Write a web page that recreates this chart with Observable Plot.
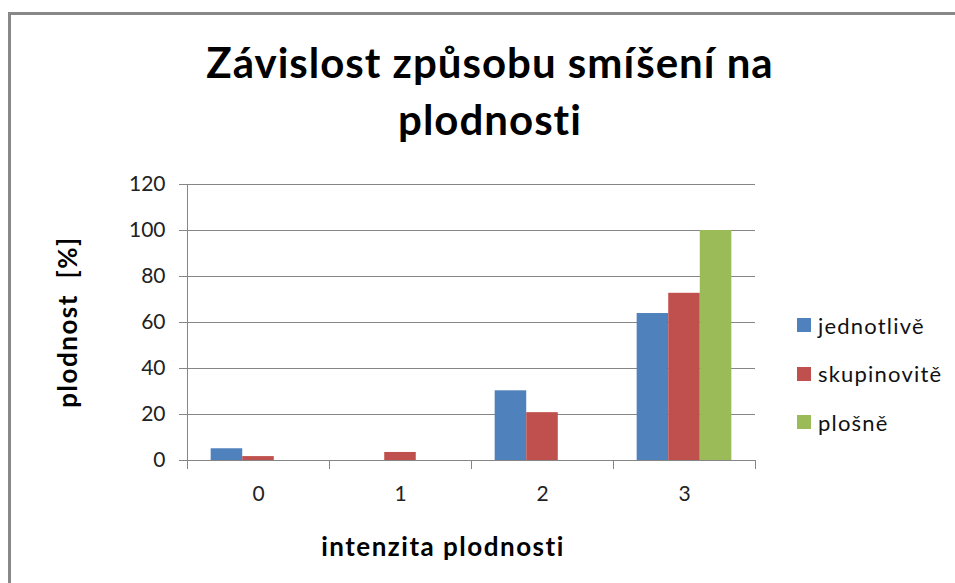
<!DOCTYPE html>
<html>
<head>
<meta charset="utf-8">
<script src="https://cdn.jsdelivr.net/npm/d3@7"></script>
<script src="https://cdn.jsdelivr.net/npm/@observablehq/plot@0.6"></script>
<style>
  html, body { margin: 0; padding: 0; background: #fff; overflow: hidden; }
  #wrap { position: relative; width: 955px; height: 583px; font-family: Lato, "Open Sans", sans-serif; color: #000; }
  #frame { position: absolute; left: 8px; top: 12px; width: 960px; height: 600px; border-left: 3px solid #888; border-top: 3px solid #888; box-sizing: border-box; }
  #title { position: absolute; left: 0; top: 34px; width: 980px; text-align: center; font-weight: bold; font-size: 42px; line-height: 57px; letter-spacing: 1px; }
  #ylabel { position: absolute; left: 67px; top: 322px; transform: translate(-50%, -50%) rotate(-90deg); font-weight: bold; font-size: 26px; letter-spacing: 1.5px; white-space: nowrap; }
  #xlabel { position: absolute; left: 443px; top: 546px; transform: translate(-50%, -50%); font-weight: bold; font-size: 26px; letter-spacing: 1.5px; white-space: nowrap; }
  #legend { position: absolute; left: 797px; top: 301px; font-size: 22px; letter-spacing: 1.2px; color: #111; }
  .li { display: flex; align-items: center; height: 48.5px; }
  .sw { width: 14px; height: 14px; margin-right: 7px; }
  #chart { position: absolute; left: 0; top: 0; }
</style>
</head>
<body>
<div id="wrap">
  <div id="frame"></div>
  <div id="chart"></div>
  <div id="title">Závislost způsobu smíšení na<br>plodnosti</div>
  <div id="ylabel">plodnost&nbsp; [%]</div>
  <div id="xlabel">intenzita plodnosti</div>
  <div id="legend"></div>
</div>
<script>
// ---- data ----
const categories = ["0", "1", "2", "3"];
const seriesNames = ["jednotlivě", "skupinovitě", "plošně"];
const jednotlive = [5.1, 0, 30.3, 63.9];
const skupinovite = [1.7, 3.5, 20.8, 72.7];
const plosne = [0, 0, 0, 100];
const yTicks = [0, 20, 40, 60, 80, 100, 120];
const colors = ["#4F81BD", "#C0504D", "#9BBB59"];

// ---- build table ----
const seriesValues = [jednotlive, skupinovite, plosne];
const rows = [];
seriesValues.forEach((vals, s) => {
  vals.forEach((v, i) => {
    rows.push({cat: i, s, series: seriesNames[s], value: v});
  });
});
// Excel-like gap width 150%: each category band holds 3 bars + 1.5 bar gap
const nS = seriesNames.length;
const slot = nS + 1.5;
const x1 = d => d.cat + (0.75 + d.s) / slot;
const x2 = d => d.cat + (1.75 + d.s) / slot;

const grey = "#868686";
const chart = Plot.plot({
  width: 955,
  height: 583,
  marginLeft: 187,
  marginRight: 200,
  marginTop: 184,
  marginBottom: 123,
  style: {fontFamily: "Lato, 'Open Sans', sans-serif", fontSize: "21px", color: "#222", background: "transparent"},
  x: {type: "linear", domain: [0, categories.length], axis: null},
  y: {domain: [0, 120], axis: null},
  color: {domain: seriesNames, range: colors},
  marks: [
    Plot.gridY(yTicks, {stroke: grey, strokeOpacity: 1, strokeWidth: 1}),
    Plot.rectY(rows.filter(d => d.value > 0), {x1, x2, y1: 0, y2: "value", fill: "series"}),
    Plot.ruleX([0], {stroke: grey, strokeWidth: 1}),
    Plot.ruleY([0], {stroke: grey, strokeWidth: 1}),
    Plot.axisY(yTicks, {tickSize: 8, tickPadding: 14, stroke: grey, fill: "#222", label: null}),
    Plot.axisX(d3.range(categories.length + 1), {tickSize: 9, tickFormat: () => "", stroke: grey, label: null}),
    Plot.axisX(categories.map((c, i) => i + 0.5), {tickSize: 0, tickPadding: 26, tickFormat: d => categories[Math.floor(d)], fill: "#222", label: null})
  ]
});
document.getElementById("chart").appendChild(chart);

// ---- legend ----
const legend = document.getElementById("legend");
seriesNames.forEach((name, i) => {
  const row = document.createElement("div");
  row.className = "li";
  const sw = document.createElement("div");
  sw.className = "sw";
  sw.style.background = colors[i];
  const t = document.createElement("span");
  t.textContent = name;
  row.appendChild(sw);
  row.appendChild(t);
  legend.appendChild(row);
});
</script>
</body>
</html>
